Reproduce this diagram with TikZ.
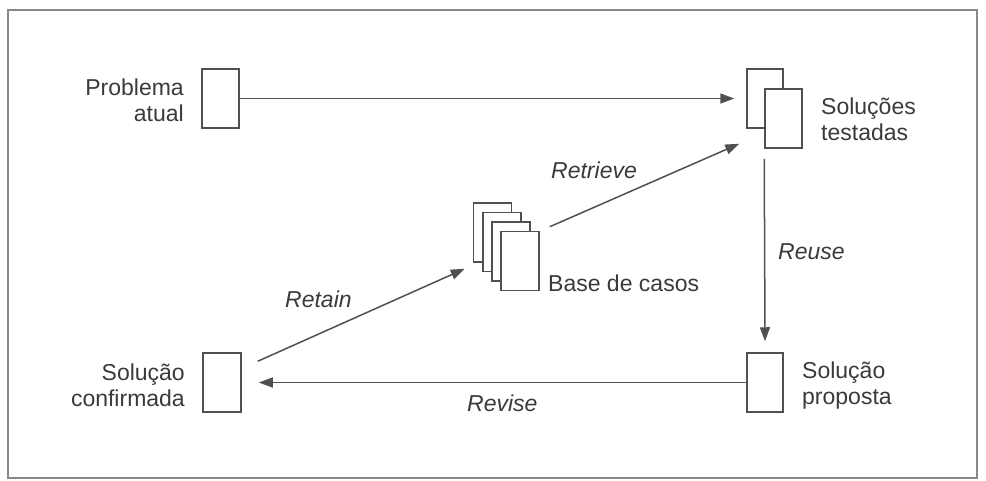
\documentclass[tikz,border=0pt]{standalone}
\usepackage{fontspec}
\setmainfont{Liberation Sans}
\usetikzlibrary{arrows.meta,calc}
\definecolor{txt}{HTML}{3A3A3A}
\definecolor{ln}{HTML}{505050}
\definecolor{frm}{HTML}{888888}
\tikzset{
  doc/.style={draw=ln, line width=1.5pt, fill=white, inner sep=0pt, minimum width=37pt, minimum height=59pt},
  lbl/.style={text=txt, inner sep=0pt, font=\fontsize{23}{26}\selectfont},
  ilbl/.style={lbl, font=\fontsize{23}{26}\selectfont\itshape},
  conn/.style={draw=ln, line width=1.5pt, -{Triangle[length=14pt,width=10pt]}}
}
\begin{document}
\begin{tikzpicture}[x=1pt,y=-1pt]
\useasboundingbox (0,0) rectangle (986,480);
\draw[frm, line width=1.6pt] (8,10) rectangle (977,478);
% boxes
\node[doc] (p) at (220.5,98.5) {};
\node[doc, minimum width=36pt] (st1) at (765,98.5) {};
\node[doc] (st2) at (783.5,118.5) {};
\node[doc, minimum width=38pt] (b1) at (492.5,232.5) {};
\node[doc, minimum width=38pt] (b2) at (502,242) {};
\node[doc, minimum width=38pt] (b3) at (511,251.5) {};
\node[doc, minimum width=38pt] (b4) at (520,261) {};
\node[doc, minimum width=38pt] (sc) at (222,382.5) {};
\node[doc, minimum width=36pt] (sp) at (765,382.5) {};
% texts
\node[lbl, align=right, anchor=north east] (tp) at (184,79) {Problema\\atual};
\node[lbl, align=left, anchor=north west] (tst) at (821,98) {Soluções\\testadas};
\node[lbl, anchor=base west] (tb) at (548,291) {Base de casos};
\node[lbl, align=right, anchor=north east] (tsc) at (185,364) {Solução\\confirmada};
\node[lbl, align=left, anchor=north west] (tsp) at (802,362) {Solução\\proposta};
% connector labels
\node[ilbl, anchor=base west] (lr1) at (551,178) {Retrieve};
\node[ilbl, anchor=base west] (lr2) at (778,259) {Reuse};
\node[ilbl, anchor=base west] (lr3) at (285,307) {Retain};
\node[ilbl, anchor=base west] (lr4) at (467,411) {Revise};
% connectors
\coordinate (a1) at ($(st1.west)+(-12,0)$);
\draw[conn] (p.east) -- (a1);
\coordinate (r1s) at ($(b4.north east)+(10,-4)$);
\coordinate (r1e) at ($(st2.south west)+(-25,-5)$);
\draw[conn] (r1s) -- (r1e);
\coordinate (r2s) at ($(st2.south west)+(0,10)$);
\coordinate (r2e) at ($(sp.north)+(0,-11)$);
\draw[conn] (r2s) -- (r2e);
\coordinate (r4e) at ($(sc.east)+(17,0)$);
\draw[conn] (sp.west) -- (r4e);
\coordinate (r3s) at ($(sc.north east)+(16,9)$);
\coordinate (r3e) at ($(b1.south west)+(-8,6)$);
\draw[conn] (r3s) -- (r3e);
\end{tikzpicture}
\end{document}
